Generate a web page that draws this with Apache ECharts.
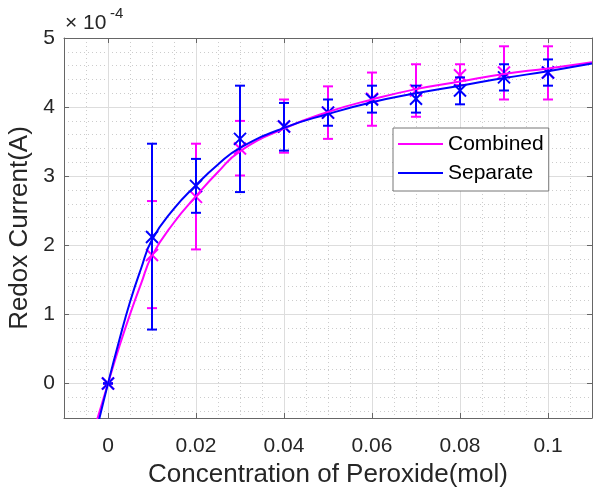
<!DOCTYPE html>
<html>
<head>
<meta charset="utf-8">
<script src="https://cdn.jsdelivr.net/npm/echarts@6/dist/echarts.min.js"></script>
<style>
html,body{margin:0;padding:0;background:#fff}
#main{width:595px;height:492px}
</style>
</head>
<body>
<div id="main"></div>
<script>
// measured points (x 1e-4 A)
var concentration = [0, 0.01, 0.02, 0.03, 0.04, 0.05, 0.06, 0.07, 0.08, 0.09, 0.1];
var combinedMean = [0, 1.86, 2.70, 3.40, 3.72, 3.92, 4.12, 4.24, 4.46, 4.50, 4.50];
var combinedLow  = [0, 1.09, 1.94, 3.01, 3.34, 3.54, 3.73, 3.86, 4.32, 4.11, 4.11];
var combinedHigh = [0, 2.64, 3.47, 3.80, 4.11, 4.30, 4.50, 4.62, 4.62, 4.88, 4.88];
var separateMean = [0, 2.12, 2.86, 3.54, 3.72, 3.92, 4.11, 4.12, 4.24, 4.43, 4.50];
var separateLow  = [0, 0.78, 2.47, 2.77, 3.37, 3.73, 3.92, 3.92, 4.04, 4.24, 4.31];
var separateHigh = [0, 3.47, 3.25, 4.31, 4.06, 4.11, 4.31, 4.31, 4.43, 4.62, 4.69];

// fitted curves
var fitX = [-0.0025, 0, 0.0025, 0.005, 0.0075, 0.01, 0.015, 0.02, 0.025, 0.03, 0.04, 0.05, 0.06, 0.07, 0.08, 0.09, 0.1, 0.11];
var combinedFit = [-0.53, 0, 0.52, 1.00, 1.44, 1.85, 2.33, 2.71, 3.06, 3.36, 3.69, 3.93, 4.11, 4.26, 4.37, 4.48, 4.56, 4.65];
var separateFit = [-0.65, 0, 0.61, 1.18, 1.66, 2.08, 2.53, 2.87, 3.17, 3.41, 3.70, 3.90, 4.07, 4.20, 4.31, 4.42, 4.52, 4.63];

var xTicks = [0, 0.02, 0.04, 0.06, 0.08, 0.1];
var yTicks = [0, 1, 2, 3, 4, 5];
var xMinor = [-0.005, 0.005, 0.01, 0.015, 0.025, 0.03, 0.035, 0.045, 0.05, 0.055, 0.065, 0.07, 0.075, 0.085, 0.09, 0.095, 0.105];
var yMinor = [-0.4, -0.2, 0.2, 0.4, 0.6, 0.8, 1.2, 1.4, 1.6, 1.8, 2.2, 2.4, 2.6, 2.8, 3.2, 3.4, 3.6, 3.8, 4.2, 4.4, 4.6, 4.8];

var FONT = '"Liberation Sans", Arial, sans-serif';
var AXIS = '#666';

function pairs(xs, ys) {
  return xs.map(function (x, i) { return [x, ys[i]]; });
}
function bars(xs, m, lo, hi) {
  return xs.map(function (x, i) { return [x, m[i], lo[i], hi[i]]; });
}
function errorBars(color) {
  return function (params, api) {
    var x = api.value(0);
    var mid = api.coord([x, api.value(1)]);
    var low = api.coord([x, api.value(2)]);
    var high = api.coord([x, api.value(3)]);
    var c = 5, m = 6;
    var st = { stroke: color, lineWidth: 2, fill: null };
    return {
      type: 'group',
      children: [
        { type: 'line', shape: { x1: high[0], y1: high[1], x2: low[0], y2: low[1] }, style: st },
        { type: 'line', shape: { x1: high[0] - c, y1: high[1], x2: high[0] + c, y2: high[1] }, style: st },
        { type: 'line', shape: { x1: low[0] - c, y1: low[1], x2: low[0] + c, y2: low[1] }, style: st },
        { type: 'line', shape: { x1: mid[0] - m, y1: mid[1] - m, x2: mid[0] + m, y2: mid[1] + m }, style: st },
        { type: 'line', shape: { x1: mid[0] - m, y1: mid[1] + m, x2: mid[0] + m, y2: mid[1] - m }, style: st }
      ]
    };
  };
}

var chart = echarts.init(document.getElementById('main'));
var option = {
  animation: false,
  backgroundColor: '#fff',
  grid: { left: 64, top: 38, width: 528, height: 380, outerBoundsMode: 'none' },
  textStyle: { fontFamily: FONT },
  legend: {
    orient: 'vertical',
    left: 393, top: 128,
    data: [{ name: 'Combined', icon: 'rect' }, { name: 'Separate', icon: 'rect' }],
    itemWidth: 45, itemHeight: 2, itemGap: 5,
    padding: [4, 5, 6, 5],
    backgroundColor: '#fff',
    borderColor: '#777', borderWidth: 1,
    textStyle: { fontSize: 21, color: '#000', fontFamily: FONT, lineHeight: 24 }
  },
  graphic: [
    { type: 'text', left: 65, top: 13, style: { text: '\u00d7 10', font: '21px ' + FONT, fill: '#262626' } },
    { type: 'text', left: 110, top: 6, style: { text: '-4', font: '15px ' + FONT, fill: '#262626' } }
  ],
  xAxis: [
    {
      type: 'value', position: 'bottom', min: -0.01, max: 0.11,
      name: 'Concentration of Peroxide(mol)', nameLocation: 'middle', nameGap: 33,
      nameTextStyle: { fontSize: 26, color: '#262626', fontFamily: FONT },
      axisLine: { show: true, onZero: false, lineStyle: { color: AXIS } },
      axisTick: { inside: true, length: 5, customValues: xTicks, lineStyle: { color: AXIS } },
      axisLabel: { customValues: xTicks, fontSize: 21, color: '#262626', margin: 18, formatter: function (v) { return String(v); } },
      splitLine: { show: true, lineStyle: { color: '#dddddd' } }
    },
    {
      type: 'value', position: 'top', min: -0.01, max: 0.11,
      axisLine: { show: true, onZero: false, lineStyle: { color: AXIS } },
      axisTick: { inside: true, length: 5, customValues: xTicks, lineStyle: { color: AXIS } },
      axisLabel: { show: false },
      splitLine: { show: false }
    },
    {
      type: 'value', position: 'bottom', min: -0.01, max: 0.11,
      axisLine: { show: false, onZero: false },
      axisTick: { show: false, customValues: xMinor },
      axisLabel: { show: false },
      splitLine: { show: true, lineStyle: { color: '#cccccc', type: [1, 3] } }
    }
  ],
  yAxis: [
    {
      type: 'value', position: 'left', min: -0.5, max: 5,
      name: 'Redox Current(A)', nameLocation: 'middle', nameGap: 27,
      nameTextStyle: { fontSize: 26, color: '#262626', fontFamily: FONT },
      axisLine: { show: true, onZero: false, lineStyle: { color: AXIS } },
      axisTick: { inside: true, length: 5, customValues: yTicks, lineStyle: { color: AXIS } },
      axisLabel: { customValues: yTicks, fontSize: 21, color: '#262626', margin: 9 },
      splitLine: { show: true, lineStyle: { color: '#dddddd' } }
    },
    {
      type: 'value', position: 'right', min: -0.5, max: 5,
      axisLine: { show: true, onZero: false, lineStyle: { color: AXIS } },
      axisTick: { inside: true, length: 5, customValues: yTicks, lineStyle: { color: AXIS } },
      axisLabel: { show: false },
      splitLine: { show: false }
    },
    {
      type: 'value', position: 'left', min: -0.5, max: 5,
      axisLine: { show: false, onZero: false },
      axisTick: { show: false, customValues: yMinor },
      axisLabel: { show: false },
      splitLine: { show: true, lineStyle: { color: '#cccccc', type: [1, 3] } }
    }
  ],
  series: [
    {
      name: 'Combined', type: 'line', data: pairs(fitX, combinedFit),
      smooth: 0.5, showSymbol: false, clip: true,
      itemStyle: { color: '#ff00ff' }, lineStyle: { color: '#ff00ff', width: 2 }
    },
    {
      name: 'Combined data', type: 'custom', data: bars(concentration, combinedMean, combinedLow, combinedHigh),
      encode: { x: 0, y: 1 }, renderItem: errorBars('#ff00ff'), clip: true
    },
    {
      name: 'Separate', type: 'line', data: pairs(fitX, separateFit),
      smooth: 0.5, showSymbol: false, clip: true,
      itemStyle: { color: '#0000ff' }, lineStyle: { color: '#0000ff', width: 2 }
    },
    {
      name: 'Separate data', type: 'custom', data: bars(concentration, separateMean, separateLow, separateHigh),
      encode: { x: 0, y: 1 }, renderItem: errorBars('#0000ff'), clip: true
    }
  ]
};
chart.setOption(option);
window.addEventListener('resize', function () { chart.resize(); });
</script>
</body>
</html>
